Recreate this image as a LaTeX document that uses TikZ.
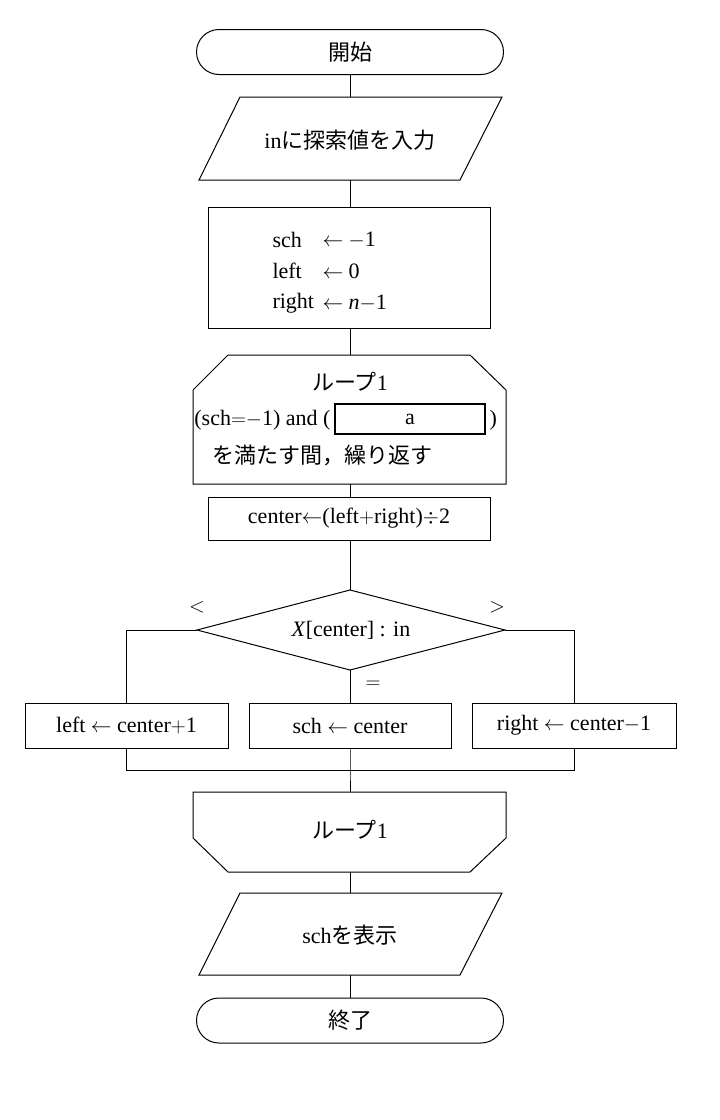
\documentclass[tikz,border=0pt]{standalone}
\usepackage{fontspec}
\setmainfont{Liberation Serif}
\newfontfamily\jp{Noto Sans CJK JP}
\usetikzlibrary{shapes.misc}
\tikzset{
  txt/.style={font=\fontsize{22}{26}\selectfont, inner sep=0pt},
  term/.style={txt, draw, rounded rectangle, minimum width=307pt, minimum height=45pt},
  proc/.style={txt, draw, minimum width=282pt},
  sub/.style={txt, draw, minimum height=45pt},
}
\begin{document}
\begin{tikzpicture}[x=1pt,y=-1pt,line width=1pt]
  \useasboundingbox (0,0) rectangle (720,1120);
  %\draw[dashed,very thin,gray] (0,0) grid[step=50] (720,1120);
  \node[term] (start) at (350,52) {\jp 開始};
  \node[txt] (input) at (350,140) {in{\jp に探索値を入力}};
  \draw (240,97) -- (502,97) -- (460,180) -- (199,180) -- cycle; % Entrada
  \draw (208,207) rectangle (490,328); % Inicializacion
  \node[txt, anchor=west] (init) at (272,240) {sch};
  \node[txt, anchor=west] at (272,271) {left};
  \node[txt, anchor=west] at (272,303) {right};
  \node[txt, anchor=west] at (322,240) {$\leftarrow$ $-$1};
  \node[txt, anchor=west] at (322,271) {$\leftarrow$ 0};
  \node[txt, anchor=west] at (322,303) {$\leftarrow$ \textit{n}$-$1};
  % Bucle inicio
  \draw (228,355) -- (470,355) -- (506,390) -- (506,484) -- (193,484) -- (193,390) -- cycle;
  \node[txt] (loop) at (350,382) {{\jp ループ}1};
  \node[txt, draw, line width=2pt, minimum width=150pt, minimum height=30pt] (a) at (410,419) {a};
  \node[txt, anchor=east] (cond) at (331,420) {(sch{$=$}{$-$}1) and (};
  \node[txt, anchor=west] at (489,420) {)};
  \node[txt, anchor=west] (cond2) at (212,455) {\jp を満たす間，繰り返す};
  \node[proc, minimum height=43pt] (calc) at (349,518.5) {center$\leftarrow$(left$+$right)$\div$2};
  % Decision
  \node[txt] (dec) at (351,630) {\textit{X}[center] : in};
  \draw (350,590) -- (505,630) -- (350,670) -- (197,630) -- cycle;
  \coordinate (dl) at (197,630); \coordinate (dr) at (505,630); \coordinate (db) at (350,670);
  \node[txt] at (197,607) {$<$};
  \node[txt] at (497,607) {$>$};
  \node[txt] at (373,685) {$=$};
  \node[sub, minimum width=203pt] (lft) at (126.5,725.5) {left $\leftarrow$ center$+$1};
  \node[sub, minimum width=202pt] (mid) at (350,725.5) {sch $\leftarrow$ center};
  \node[sub, minimum width=204pt] (rgt) at (574,725.5) {right $\leftarrow$ center$-$1};
  \coordinate (merge) at (350,770);
  % Bucle fin
  \draw (193,792) -- (506,792) -- (506,838) -- (470,872) -- (228,872) -- (193,838) -- cycle;
  \node[txt] (loopend) at (350,830) {{\jp ループ}1};
  \node[txt] (output) at (350,935) {sch{\jp を表示}};
  \draw (240,893) -- (502,893) -- (460,975) -- (199,975) -- cycle; % Salida
  \node[term] (stop) at (350,1020.5) {\jp 終了};
  % Lineas
  \draw (start.south) -- (350,97);
  \draw (350,180) -- (350,207);
  \draw (350,328) -- (350,355);
  \draw (350,484) -- (350,497);
  \draw (350,540) -- (350,590);
  \draw (dl) -| (lft.north);
  \draw (dr) -| (rgt.north);
  \draw (db) -- (mid.north);
  \draw (lft.south) -- (126.5,770) -- (574,770) -- (rgt.south);
  \draw (mid.south) -- (merge) -- (350,792);
  \draw (350,872) -- (350,893);
  \draw (350,975) -- (stop.north);
\end{tikzpicture}
\end{document}
